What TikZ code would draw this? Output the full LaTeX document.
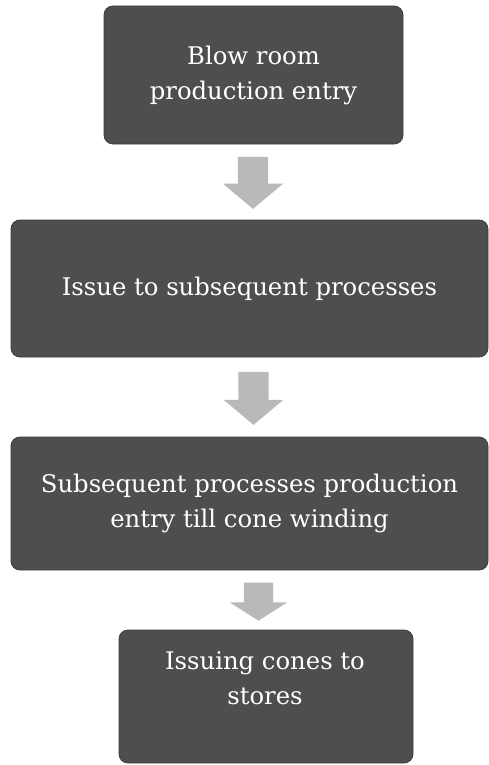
\documentclass[tikz,border=0pt]{standalone}
\usepackage{fontspec}
\setmainfont{DejaVu Serif}
\usetikzlibrary{shapes.arrows}
\definecolor{boxfill}{HTML}{4E4E4E}
\definecolor{boxline}{HTML}{3E3E3E}
\definecolor{arrfill}{HTML}{B9B9B9}
\begin{document}
\begin{tikzpicture}[x=1pt,y=-1pt,
  stepbox/.style={draw=boxline, line width=0.8pt, fill=boxfill, rounded corners=9pt,
    text=white, align=center, inner sep=0pt,
    font=\fontsize{24.3}{35}\selectfont},
  downarrow/.style={single arrow, shape border rotate=270, fill=arrfill, draw=none,
    inner ysep=0pt, inner xsep=15pt, single arrow head indent=0pt}]
\useasboundingbox (0,0) rectangle (488,765);
\fill[white] (0,0) rectangle (488,765);
\node[stepbox, minimum width=299pt, minimum height=138pt] (b1) at (253.5,75)
  {Blow room\\production entry};
\node[stepbox, minimum width=477pt, minimum height=137pt] (b2) at (249.5,288.5)
  {Issue to subsequent processes};
\node[stepbox, minimum width=477pt, minimum height=133pt] (b3) at (249.5,503.5)
  {Subsequent processes production\\entry till cone winding};
\node[stepbox, minimum width=294pt, minimum height=133pt] (b4) at (266,696.5) {};
\node[text=white, align=center, inner sep=0pt, font=\fontsize{24.3}{35}\selectfont]
  (t4) at (265,678) {Issuing cones to\\stores};
\node[downarrow, minimum height=52pt, single arrow head extend=15pt,
  single arrow tip angle=100] (a1) at (253,176.5) {};
\node[downarrow, minimum height=53pt, single arrow head extend=14.5pt,
  single arrow tip angle=100] (a2) at (253.5,392) {};
\node[downarrow, minimum height=38pt, inner xsep=14.5pt, single arrow head extend=14pt,
  single arrow tip angle=115] (a3) at (258.5,597) {};
\end{tikzpicture}
\end{document}
